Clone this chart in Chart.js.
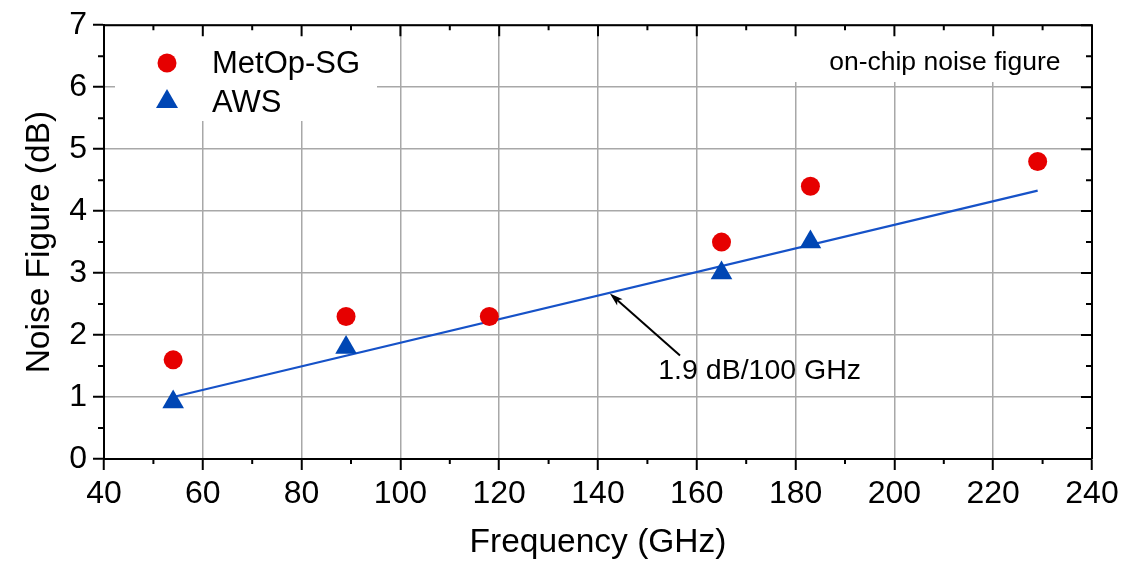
<!DOCTYPE html>
<html>
<head>
<meta charset="utf-8">
<script src="https://cdn.jsdelivr.net/npm/chart.js@4.4.1/dist/chart.umd.min.js"></script>
<style>
  html, body { margin:0; padding:0; background:#fff; }
  #wrap { width:1146px; height:565px; position:relative; }
</style>
</head>
<body>
<div id="wrap"><canvas id="c"></canvas></div>
<script>
// data
const metopFreq = [54, 89, 118, 165, 183, 229];
const metopNF   = [1.6, 2.3, 2.3, 3.5, 4.4, 4.8];
const awsFreq   = [54, 89, 165, 183];
const awsNF     = [0.92, 1.8, 3.0, 3.5];
const fitFreq   = [54, 229];
const fitNF     = [1.0, 4.33];
const seriesNames = ['MetOp-SG', 'AWS'];
const slopeLabel  = '1.9 dB/100 GHz';
const noteLabel   = 'on-chip noise figure';

const RED = '#e60000', BLUE = '#0046b4', LINE = '#1652c8';
const FONT = '"Liberation Sans", Arial, Helvetica, sans-serif';
Chart.defaults.font.family = FONT;
Chart.defaults.color = '#000';

const pts = (xs, ys) => xs.map((x, i) => ({ x, y: ys[i] }));

const extras = {
  id: 'extras',
  beforeDatasetsDraw(chart) {
    const { ctx } = chart;
    ctx.save();
    ctx.fillStyle = '#fff';
    // white boxes behind legend and note
    ctx.fillRect(115, 25, 262, 96);
    ctx.fillRect(790, 25, 296, 57);
    ctx.restore();
  },
  afterDraw(chart) {
    const { ctx, chartArea: a, scales: { x, y } } = chart;
    ctx.save();
    ctx.strokeStyle = '#000';
    ctx.lineWidth = 2;
    // top & right frame
    ctx.beginPath();
    ctx.moveTo(a.left, a.top); ctx.lineTo(a.right, a.top); ctx.lineTo(a.right, a.bottom);
    ctx.stroke();
    // ticks on top/right (inward) and minor ticks everywhere
    ctx.beginPath();
    for (let v = 40; v <= 240; v += 10) {
      const px = x.getPixelForValue(v);
      const major = v % 20 === 0;
      ctx.moveTo(px, a.top); ctx.lineTo(px, a.top + (major ? 11 : 5));
      if (!major) { ctx.moveTo(px, a.bottom); ctx.lineTo(px, a.bottom + 5); }
    }
    for (let v = 0; v <= 7; v += 0.5) {
      const py = y.getPixelForValue(v);
      const major = v % 1 === 0;
      ctx.moveTo(a.right, py); ctx.lineTo(a.right - (major ? 11 : 6), py);
      if (!major) { ctx.moveTo(a.left, py); ctx.lineTo(a.left - 6, py); }
    }
    ctx.stroke();

    // legend
    ctx.fillStyle = RED;
    ctx.beginPath(); ctx.arc(167, 63, 9.5, 0, Math.PI * 2); ctx.fill();
    ctx.fillStyle = BLUE;
    ctx.beginPath();
    ctx.moveTo(167, 89); ctx.lineTo(178, 108); ctx.lineTo(156, 108); ctx.closePath(); ctx.fill();
    ctx.fillStyle = '#000';
    ctx.font = '31px ' + FONT;
    ctx.textBaseline = 'middle';
    ctx.textAlign = 'left';
    ctx.fillText(seriesNames[0], 212, 64);
    ctx.fillText(seriesNames[1], 212, 103);

    // note, top right
    ctx.font = '26.5px ' + FONT;
    ctx.fillText(noteLabel, x.getPixelForValue(186.8), y.getPixelForValue(6.39));

    // slope annotation with arrow
    ctx.font = '28.5px ' + FONT;
    ctx.fillText(slopeLabel, x.getPixelForValue(152.2), y.getPixelForValue(1.42));
    const x0 = x.getPixelForValue(156.6), y0 = y.getPixelForValue(1.67);
    const x1 = x.getPixelForValue(142.4), y1 = y.getPixelForValue(2.67);
    const ang = Math.atan2(y1 - y0, x1 - x0);
    ctx.strokeStyle = '#000';
    ctx.lineWidth = 2;
    ctx.beginPath(); ctx.moveTo(x0, y0); ctx.lineTo(x1 - 6 * Math.cos(ang), y1 - 6 * Math.sin(ang)); ctx.stroke();
    ctx.beginPath();
    ctx.moveTo(x1, y1);
    ctx.lineTo(x1 - 14 * Math.cos(ang - 0.3), y1 - 14 * Math.sin(ang - 0.3));
    ctx.lineTo(x1 - 10 * Math.cos(ang), y1 - 10 * Math.sin(ang));
    ctx.lineTo(x1 - 14 * Math.cos(ang + 0.3), y1 - 14 * Math.sin(ang + 0.3));
    ctx.closePath();
    ctx.fillStyle = '#000';
    ctx.fill();
    ctx.restore();
  }
};

new Chart(document.getElementById('c'), {
  type: 'scatter',
  data: {
    datasets: [
      { label: seriesNames[0], data: pts(metopFreq, metopNF), pointStyle: 'circle',
        pointRadius: 9.5, pointHoverRadius: 9.5, backgroundColor: RED, borderColor: RED, borderWidth: 0 },
      { label: seriesNames[1], data: pts(awsFreq, awsNF), pointStyle: 'triangle',
        pointRadius: 12.5, pointHoverRadius: 12.5, backgroundColor: BLUE, borderColor: BLUE, borderWidth: 0 },
      { label: 'fit', data: pts(fitFreq, fitNF), showLine: true, pointRadius: 0,
        borderColor: LINE, borderWidth: 2.2, fill: false },
    ]
  },
  options: {
    responsive: true, maintainAspectRatio: false, animation: false,
    layout: { padding: { left: 20, top: 24, right: 54, bottom: 0 } },
    plugins: { legend: { display: false }, tooltip: { enabled: false } },
    scales: {
      x: {
        type: 'linear', min: 40, max: 240,
        ticks: { stepSize: 20, font: { size: 32 }, color: '#000', padding: 5, maxRotation: 0 },
        grid: { color: '#a8a8a8', lineWidth: 1.5, tickColor: '#000', tickLength: 11, tickWidth: 2 },
        border: { color: '#000', width: 2 },
        title: { display: true, text: 'Frequency (GHz)', font: { size: 33.5 }, color: '#000', padding: { top: 0, bottom: 2 } },
        afterFit: s => { s.height = 106; }
      },
      y: {
        min: 0, max: 7,
        ticks: { stepSize: 1, font: { size: 32 }, color: '#000', padding: 6 },
        grid: { color: '#a8a8a8', lineWidth: 1.5, tickColor: '#000', tickLength: 11, tickWidth: 2 },
        border: { color: '#000', width: 2 },
        title: { display: true, text: 'Noise Figure (dB)', font: { size: 33.5 }, color: '#000', padding: 0 },
        afterFit: s => { s.width = 84; }
      }
    }
  },
  plugins: [extras]
});
</script>
</body>
</html>
